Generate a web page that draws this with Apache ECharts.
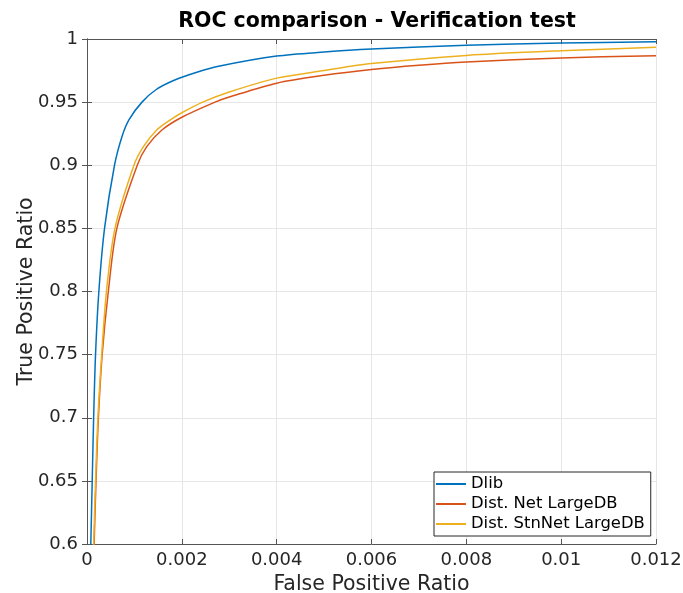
<!DOCTYPE html>
<html>
<head>
<meta charset="utf-8">
<script src="https://cdn.jsdelivr.net/npm/echarts@6/dist/echarts.min.js"></script>
<style>
  html, body { margin: 0; padding: 0; background: #fff; }
  #roc-chart { width: 683px; height: 593px; }
</style>
</head>
<body>
<div id="roc-chart"></div>
<script>
// values
const seriesNames = ['Dlib', 'Dist. Net LargeDB', 'Dist. StnNet LargeDB']

const dlibFpr = [0.00005, 0.00008, 0.00011, 0.00014, 0.00018, 0.00025, 0.00037, 0.00058, 0.00074, 0.00089, 0.00116, 0.00146, 0.00185, 0.0023, 0.0028, 0.004, 0.005, 0.006, 0.008, 0.01, 0.012]
const dlibTpr = [0.55, 0.60, 0.65, 0.70, 0.75, 0.80, 0.85, 0.90, 0.923, 0.9364, 0.95, 0.960, 0.9675, 0.9735, 0.9786, 0.9865, 0.9897, 0.992, 0.995, 0.9968, 0.9978]

const netFpr = [0.00011, 0.00015, 0.00019, 0.00024, 0.00032, 0.00045, 0.00063, 0.00106, 0.00126, 0.00158, 0.002, 0.0027, 0.003, 0.004, 0.005, 0.006, 0.007, 0.008, 0.01, 0.012]
const netTpr = [0.55, 0.60, 0.65, 0.70, 0.75, 0.80, 0.85, 0.90, 0.9147, 0.9279, 0.938, 0.95, 0.954, 0.965, 0.9712, 0.9758, 0.9792, 0.9818, 0.985, 0.9868]

const stnFpr = [0.0001, 0.00014, 0.00018, 0.00023, 0.00031, 0.00041, 0.00059, 0.00099, 0.00119, 0.00147, 0.00175, 0.002, 0.00244, 0.003, 0.004, 0.005, 0.006, 0.008, 0.01, 0.012]
const stnTpr = [0.55, 0.60, 0.65, 0.70, 0.75, 0.80, 0.85, 0.90, 0.9147, 0.9279, 0.9358, 0.9416, 0.95, 0.958, 0.969, 0.975, 0.9805, 0.987, 0.9907, 0.9934]

const xTickLabels = ['0', '0.002', '0.004', '0.006', '0.008', '0.01', '0.012']
const yTickLabels = ['0.6', '0.65', '0.7', '0.75', '0.8', '0.85', '0.9', '0.95', '1']

const textColor = '#262626'
const lineColor = '#555555'
const splitColor = '#e6e6e6'
const font = 'DejaVu Sans'

function pairs(xs, ys) {
  return xs.map((x, i) => [x, ys[i]])
}

const myChart = echarts.init(document.getElementById('roc-chart'), null, { renderer: 'canvas' })

const baseX = {
  type: 'value',
  min: 0,
  max: 0.012,
  interval: 0.002,
}
const baseY = {
  type: 'value',
  min: 0.6,
  max: 1,
  interval: 0.05,
}

const option = {
  animation: false,
  backgroundColor: '#fff',
  color: ['#0072BD', '#D95319', '#EDB120'],
  title: {
    text: 'ROC comparison - Verification test',
    left: 372,
    top: 6,
    textAlign: 'center',
    textStyle: { fontFamily: font, fontWeight: 'bold', fontSize: 20.5, color: '#000' },
  },
  legend: {
    data: seriesNames,
    orient: 'vertical',
    left: 434,
    top: 472,
    icon: 'rect',
    itemWidth: 30,
    itemHeight: 2,
    itemGap: 4,
    itemTextGap: 4,
    padding: [4, 6, 4, 2],
    borderColor: textColor,
    borderWidth: 1,
    backgroundColor: '#fff',
    textStyle: { fontFamily: font, fontSize: 16.4, color: '#000' },
  },
  grid: { left: 87, right: 27, top: 39, bottom: 49, outerBoundsMode: 'none' },
  xAxis: [
    {
      ...baseX,
      position: 'bottom',
      name: 'False Positive Ratio',
      nameLocation: 'middle',
      nameGap: 30,
      nameMoveOverlap: false,
      nameTextStyle: { fontFamily: font, fontSize: 20.5, color: textColor },
      axisLine: { show: true, lineStyle: { color: lineColor, width: 1 } },
      axisTick: { show: true, inside: true, length: 5, lineStyle: { color: lineColor } },
      axisLabel: {
        fontFamily: font, fontSize: 18, color: textColor, margin: 7,
        formatter: (v) => xTickLabels[Math.round(v / 0.002)],
      },
      splitLine: { show: true, lineStyle: { color: splitColor } },
    },
    {
      ...baseX,
      position: 'top',
      axisLine: { show: true, lineStyle: { color: lineColor, width: 1 } },
      axisTick: { show: true, inside: true, length: 5, lineStyle: { color: lineColor } },
      axisLabel: { show: false },
      splitLine: { show: false },
    },
  ],
  yAxis: [
    {
      ...baseY,
      position: 'left',
      name: 'True Positive Ratio',
      nameLocation: 'middle',
      nameGap: 50,
      nameMoveOverlap: false,
      nameTextStyle: { fontFamily: font, fontSize: 20.5, color: textColor },
      axisLine: { show: true, lineStyle: { color: lineColor, width: 1 } },
      axisTick: { show: true, inside: true, length: 5, lineStyle: { color: lineColor } },
      axisLabel: {
        fontFamily: font, fontSize: 18, color: textColor, margin: 9,
        formatter: (v) => yTickLabels[Math.round((v - 0.6) / 0.05)],
      },
      splitLine: { show: true, lineStyle: { color: splitColor } },
    },
    {
      ...baseY,
      position: 'right',
      axisLine: { show: true, lineStyle: { color: lineColor, width: 1 } },
      axisTick: { show: true, inside: true, length: 5, lineStyle: { color: lineColor } },
      axisLabel: { show: false },
      splitLine: { show: false },
    },
  ],
  series: [
    { name: seriesNames[0], data: pairs(dlibFpr, dlibTpr) },
    { name: seriesNames[1], data: pairs(netFpr, netTpr) },
    { name: seriesNames[2], data: pairs(stnFpr, stnTpr) },
  ].map(s => ({
    ...s,
    type: 'line',
    xAxisIndex: 0,
    yAxisIndex: 0,
    symbol: 'none',
    smooth: 0.3,
    clip: true,
    lineStyle: { width: 1.5 },
    z: 3,
  })),
}

myChart.setOption(option)
</script>
</body>
</html>
